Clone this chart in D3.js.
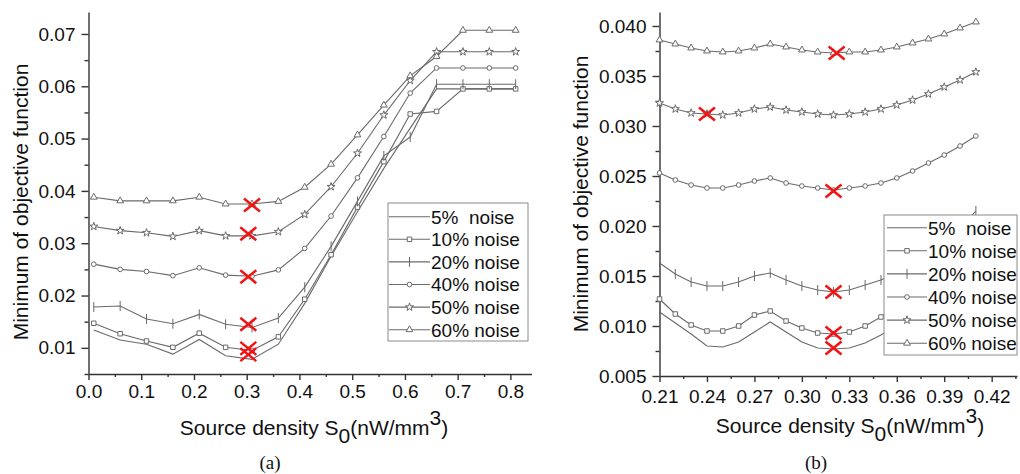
<!DOCTYPE html>
<html>
<head>
<meta charset="utf-8">
<script src="https://cdn.jsdelivr.net/npm/d3@7"></script>
<style>
  body { margin: 0; background: #fff; }
  svg text { font-family: "Liberation Sans", Arial, sans-serif; fill: #111; }
  .axis path, .axis line { stroke: #333; stroke-width: 1.4; }
  .axis text { font-size: 19px; }
  .series { fill: none; stroke: #6a6a6a; stroke-width: 1.1; }
  .mark { fill: #fff; stroke: #6a6a6a; stroke-width: 1; }
  .cross { stroke: #f01414; stroke-width: 2.5; fill: none; }
  .legend-box { fill: #fff; stroke: #8a8a8a; stroke-width: 1; }
  .title { font-size: 21px; }
  .panel-tag { font-family: "Liberation Serif", "Times New Roman", serif; font-size: 19px; }
</style>
</head>
<body>
<svg id="chart" width="1020" height="474"></svg>
<script>
// series names, shared by both panels
const noiseLabels = ["5%  noise", "10% noise", "20% noise", "40% noise", "50% noise", "60% noise"];
const markerShapes = ["none", "square", "plus", "circle", "star", "triangle"];

// panel (a): source density 0.01 .. 0.81
const xA = [0.01, 0.06, 0.11, 0.16, 0.21, 0.26, 0.31, 0.36, 0.41, 0.46, 0.51, 0.56, 0.61, 0.66, 0.71, 0.76, 0.81];
const a5  = [0.0134, 0.0115, 0.0107, 0.0088, 0.0116, 0.0085, 0.0078, 0.0107, 0.0185, 0.0275, 0.0360, 0.0443, 0.0520, 0.0595, 0.0595, 0.0595, 0.0595];
const a10 = [0.0147, 0.0127, 0.0113, 0.0101, 0.0128, 0.0101, 0.0095, 0.0121, 0.0193, 0.0278, 0.0369, 0.0456, 0.0547, 0.0552, 0.0595, 0.0595, 0.0595];
const a20 = [0.0178, 0.0180, 0.0155, 0.0146, 0.0164, 0.0145, 0.0139, 0.0157, 0.0216, 0.0294, 0.0380, 0.0467, 0.0503, 0.0604, 0.0604, 0.0604, 0.0604];
const a40 = [0.0260, 0.0250, 0.0246, 0.0238, 0.0253, 0.0239, 0.0237, 0.0249, 0.0290, 0.0352, 0.0425, 0.0504, 0.0587, 0.0635, 0.0635, 0.0635, 0.0635];
const a50 = [0.0332, 0.0324, 0.0320, 0.0313, 0.0324, 0.0314, 0.0314, 0.0322, 0.0355, 0.0408, 0.0472, 0.0545, 0.0611, 0.0666, 0.0666, 0.0666, 0.0666];
const a60 = [0.0388, 0.0381, 0.0381, 0.0381, 0.0388, 0.0375, 0.0375, 0.0380, 0.0407, 0.0451, 0.0507, 0.0564, 0.0620, 0.0657, 0.0707, 0.0707, 0.0707];
// red crosses: the minimum found for each noise level
const crossAx = [0.303, 0.303, 0.303, 0.303, 0.303, 0.31];
const crossAy = [0.0087, 0.0099, 0.0145, 0.0236, 0.0318, 0.0373];
const xTicksA = [0, 0.1, 0.2, 0.3, 0.4, 0.5, 0.6, 0.7, 0.8];
const xMinorA = [0.05, 0.15, 0.25, 0.35, 0.45, 0.55, 0.65, 0.75];
const yTicksA = [0.01, 0.02, 0.03, 0.04, 0.05, 0.06, 0.07];
const yMinorA = [0.005, 0.015, 0.025, 0.035, 0.045, 0.055, 0.065];

// panel (b): zoom on 0.21 .. 0.41
const xB = [0.21, 0.22, 0.23, 0.24, 0.25, 0.26, 0.27, 0.28, 0.29, 0.30, 0.31, 0.32, 0.33, 0.34, 0.35, 0.36, 0.37, 0.38, 0.39, 0.40, 0.41];
const b5  = [0.0114, 0.0103, 0.0092, 0.0080, 0.0079, 0.0084, 0.0094, 0.0104, 0.0094, 0.0084, 0.0078, 0.0077, 0.0078, 0.0083, 0.0091, 0.0101, 0.0113, 0.0127, 0.0143, 0.0160, 0.0180];
const b10 = [0.0127, 0.0112, 0.0101, 0.0095, 0.0095, 0.0100, 0.0111, 0.0115, 0.0105, 0.0098, 0.0093, 0.0092, 0.0094, 0.0100, 0.0109, 0.0120, 0.0133, 0.0148, 0.0165, 0.0185, 0.0207];
const b20 = [0.0163, 0.0152, 0.0144, 0.0140, 0.0140, 0.0144, 0.0150, 0.0153, 0.0146, 0.0140, 0.0136, 0.0134, 0.0136, 0.0141, 0.0146, 0.0153, 0.0161, 0.0171, 0.0183, 0.0198, 0.0215];
const b40 = [0.0253, 0.0246, 0.0241, 0.0238, 0.0238, 0.0241, 0.0245, 0.0248, 0.0243, 0.0240, 0.0238, 0.0236, 0.0238, 0.0240, 0.0243, 0.0248, 0.0255, 0.0263, 0.0271, 0.0280, 0.0290];
const b50 = [0.0323, 0.0317, 0.0313, 0.0312, 0.0311, 0.0313, 0.0317, 0.0319, 0.0316, 0.0314, 0.0312, 0.0311, 0.0312, 0.0314, 0.0317, 0.0321, 0.0326, 0.0332, 0.0339, 0.0346, 0.0354];
const b60 = [0.0386, 0.0382, 0.0378, 0.0375, 0.0374, 0.0375, 0.0378, 0.0382, 0.0379, 0.0376, 0.0374, 0.0373, 0.0374, 0.0374, 0.0376, 0.0379, 0.0383, 0.0387, 0.0392, 0.0398, 0.0404];
const crossBx = [0.32, 0.32, 0.32, 0.32, 0.24, 0.322];
const crossBy = [0.0078, 0.0093, 0.0134, 0.0235, 0.0312, 0.0373];
const xTicksB = [0.21, 0.24, 0.27, 0.30, 0.33, 0.36, 0.39, 0.42];
const xMinorB = [0.225, 0.255, 0.285, 0.315, 0.345, 0.375, 0.405, 0.435];
const yTicksB = [0.005, 0.010, 0.015, 0.020, 0.025, 0.030, 0.035, 0.040];
const yMinorB = [0.0075, 0.0125, 0.0175, 0.0225, 0.0275, 0.0325, 0.0375];

const svg = d3.select("#chart");

// small open markers like the Origin defaults
function shapePath(t) {
  if (t === "plus") return "M0,-5V5";
  const type = { square: d3.symbolSquare, circle: d3.symbolCircle, triangle: d3.symbolTriangle, star: d3.symbolStar }[t];
  const size = { square: 20, circle: 17, triangle: 20, star: 20 }[t];
  return d3.symbol().type(type).size(size)();
}

function drawPanel(p) {
  const g = svg.append("g");
  const x0 = p.x.range()[0], y0 = p.y.range()[0];

  // minor ticks first, major axis on top
  g.append("g").attr("class", "axis").attr("transform", `translate(0,${y0})`)
    .call(d3.axisBottom(p.x).tickValues(p.xMinor).tickSize(3).tickFormat(""))
    .select(".domain").remove();
  g.append("g").attr("class", "axis").attr("transform", `translate(${x0},0)`)
    .call(d3.axisLeft(p.y).tickValues(p.yMinor).tickSize(4).tickFormat(""))
    .select(".domain").remove();

  g.append("g").attr("class", "axis").attr("transform", `translate(0,${y0})`)
    .call(d3.axisBottom(p.x).tickValues(p.xTicks).tickSize(6).tickSizeOuter(0)
      .tickPadding(p.xPad).tickFormat(d3.format(p.xFmt)));
  g.append("g").attr("class", "axis").attr("transform", `translate(${x0},0)`)
    .call(d3.axisLeft(p.y).tickValues(p.yTicks).tickSize(7).tickSizeOuter(0)
      .tickPadding(6).tickFormat(d3.format(p.yFmt)));

  const line = d3.line().x(d => p.x(d[0])).y(d => p.y(d[1]));
  p.series.forEach((vals, i) => {
    const pts = p.xs.map((xv, j) => [xv, vals[j]]);
    g.append("path").attr("class", "series").attr("d", line(pts));
    if (markerShapes[i] === "none") return;
    g.selectAll(null).data(pts).join("path")
      .attr("class", "mark")
      .attr("transform", d => `translate(${p.x(d[0])},${p.y(d[1])})`)
      .attr("d", shapePath(markerShapes[i]));
  });

  // legend (white box hides the lines behind it)
  const L = p.legend;
  const lg = g.append("g");
  lg.append("rect").attr("class", "legend-box")
    .attr("x", L.x).attr("y", L.y).attr("width", L.w).attr("height", L.h);
  noiseLabels.forEach((lab, i) => {
    const cy = L.row0 + i * L.step;
    lg.append("line").attr("class", "series")
      .attr("x1", L.lx0).attr("x2", L.lx1).attr("y1", cy).attr("y2", cy);
    if (markerShapes[i] !== "none") {
      lg.append("path").attr("class", "mark")
        .attr("transform", `translate(${(L.lx0 + L.lx1) / 2},${cy})`)
        .attr("d", shapePath(markerShapes[i]));
    }
    lg.append("text").attr("x", L.tx).attr("y", cy + 6.8)
      .style("font-size", "19px").style("white-space", "pre")
      .text(lab);
  });

  // red crosses mark the minima
  g.selectAll(null).data(p.crossX.map((cx, i) => [cx, p.crossY[i]])).join("path")
    .attr("class", "cross")
    .attr("transform", d => `translate(${p.x(d[0])},${p.y(d[1])})`)
    .attr("d", "M-8,-6.5L8,6.5M-8,6.5L8,-6.5");

  // axis titles
  const xt = g.append("text").attr("class", "title").attr("text-anchor", "middle")
    .attr("x", p.xTitleX).attr("y", p.xTitleY);
  xt.append("tspan").text("Source density S");
  xt.append("tspan").attr("dy", 8).text("0");
  xt.append("tspan").attr("dy", -8).text("(nW/mm");
  xt.append("tspan").attr("dy", -10).text("3");
  xt.append("tspan").attr("dy", 10).text(")");

  g.append("text").attr("class", "title").attr("text-anchor", "middle")
    .attr("transform", `translate(${p.yTitleX},${p.yTitleY}) rotate(-90)`)
    .text("Minimum of objective function");

  g.append("text").attr("class", "panel-tag").attr("text-anchor", "middle")
    .attr("x", p.tagX).attr("y", 469).text(p.tag);
}

drawPanel({
  x: d3.scaleLinear().domain([0, 0.84]).range([88.5, 531.5]),
  y: d3.scaleLinear().domain([0.005, 0.0742]).range([374, 12]),
  xs: xA, series: [a5, a10, a20, a40, a50, a60],
  xTicks: xTicksA, xMinor: xMinorA, yTicks: yTicksA, yMinor: yMinorA,
  xFmt: ".1f", yFmt: ".2f", xPad: 5,
  crossX: crossAx, crossY: crossAy,
  legend: { x: 388, y: 203, w: 140, h: 138, row0: 216.7, step: 22.6, lx0: 389, lx1: 430, tx: 431 },
  xTitleX: 314, xTitleY: 435, yTitleX: 28, yTitleY: 202,
  tag: "(a)", tagX: 270
});

drawPanel({
  x: d3.scaleLinear().domain([0.21, 0.436]).range([659.5, 1017]),
  y: d3.scaleLinear().domain([0.005, 0.0414]).range([376, 12]),
  xs: xB, series: [b5, b10, b20, b40, b50, b60],
  xTicks: xTicksB, xMinor: xMinorB, yTicks: yTicksB, yMinor: yMinorB,
  xFmt: ".2f", yFmt: ".3f", xPad: 8,
  crossX: crossBx, crossY: crossBy,
  legend: { x: 884, y: 215, w: 133, h: 140, row0: 227.7, step: 23.1, lx0: 887, lx1: 927, tx: 928 },
  xTitleX: 850, xTitleY: 433, yTitleX: 588, yTitleY: 194,
  tag: "(b)", tagX: 816
});
</script>
</body>
</html>
